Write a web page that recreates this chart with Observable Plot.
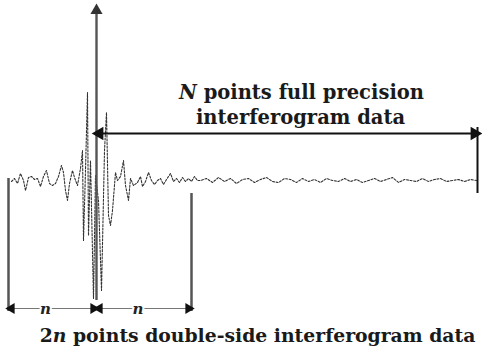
<!DOCTYPE html>
<html>
<head>
<meta charset="utf-8">
<script src="https://cdn.jsdelivr.net/npm/d3@7"></script>
<script src="https://cdn.jsdelivr.net/npm/@observablehq/plot@0.6"></script>
<style>
  html, body { margin: 0; padding: 0; background: #fff; }
  #chart svg { display: block; }
</style>
</head>
<body>
<div id="chart"></div>
<script>
// Optical path difference (sample offset from zero-path-difference) and signal amplitude
const opd = [-85,-82,-79,-76,-73,-71,-68,-65,-62,-59,-56,-53,-50,-47,-44,-41,-38,-35,-33,-31,-29,-27,-24,-22,-19,-16,-14,-13,-11,-9,-8,-6,-3,-1,2,5,8,10,12,14,16,19,21,24,27,29,32,34,37,41,44,46,49,52,55,58,61,64,67,70,74,77,80,83,86,89,92,95,98,101,
  104,110,116,122,128,134,140,146,152,158,164,170,176,182,188,194,200,206,212,218,224,230,236,242,248,254,260,266,272,278,284,290,296,302,308,314,320,326,332,338,344,350,356,362,368,374,380];
const amp = [-1,2,-3,7,0,-10,3,4,1,2,-6,4,10,-3,-5,-3,4,15,8,-10,-20,-3,10,3,-5,12,30,-60,10,88,-55,20,-118,5,-20,-110,30,68,-35,-45,-30,8,0,4,20,-5,-20,2,-5,-2,4,-6,-1,8,0,-4,0,2,-4,1,7,-1,2,-2,3,-1,2,-1,4,0,
  0,2,-2,3,-1,2,-3,1,2,-2,1,3,-1,-2,2,1,-2,2,-1,1,-2,2,0,-1,2,-1,1,-2,0,2,-1,1,3,-2,1,0,-1,2,-1,1,2,-1,0,1,-1,1,0];

// Annotation values
const nLeft = -88;      // start of double-sided segment (n points before ZPD)
const nRight = 95;      // end of double-sided segment (n points after ZPD)
const fullEnd = 381;    // end of N-point full precision segment
const labels = ["N points full precision", "interferogram data", "2n points double-side interferogram data", "n"];

const signal = opd.map((d, i) => ({opd: d, amp: amp[i]}));

const serif = "'DejaVu Serif', 'Liberation Serif', serif";

const plot = Plot.plot({
  width: 482,
  height: 349,
  marginTop: 0, marginRight: 0, marginBottom: 0, marginLeft: 0,
  x: {domain: [-96, 386], axis: null},
  y: {domain: [-169, 180], axis: null},
  style: {background: "#fff"},
  marks: [
    // interferogram trace
    Plot.line(signal, {x: "opd", y: "amp", stroke: "#333", strokeWidth: 1.1, strokeDasharray: "2,1.6"}),
    // vertical axis with arrowhead at ZPD
    Plot.ruleX([0], {y1: -120, y2: 166, stroke: "#555", strokeWidth: 2.4}),
    Plot.dot([0], {x: d => d, y: 170, symbol: "triangle", r: 4.5, fill: "#333", stroke: "none"}),
    // N-point double arrow
    Plot.ruleY([47], {x1: 3, x2: 378, stroke: "#111", strokeWidth: 1.8}),
    Plot.dot([3], {x: d => d, y: 47, symbol: "triangle", rotate: -90, r: 5, fill: "#111", stroke: "none"}),
    Plot.dot([378], {x: d => d, y: 47, symbol: "triangle", rotate: 90, r: 5, fill: "#111", stroke: "none"}),
    Plot.ruleX([fullEnd], {y1: 53, y2: -13, stroke: "#111", strokeWidth: 2}),
    // double-sided bracket
    Plot.ruleX([nLeft], {y1: 2, y2: -131, stroke: "#555", strokeWidth: 2.5}),
    Plot.ruleX([nRight], {y1: -13, y2: -131, stroke: "#555", strokeWidth: 2.5}),
    Plot.ruleY([-128], {x1: nLeft, x2: nRight, stroke: "#777", strokeWidth: 1}),
    Plot.dot([nLeft + 3, 3], {x: d => d, y: -128, symbol: "triangle", rotate: -90, r: 4, fill: "#111", stroke: "none"}),
    Plot.dot([-3, nRight - 3], {x: d => d, y: -128, symbol: "triangle", rotate: 90, r: 4, fill: "#111", stroke: "none"}),
    Plot.text([nLeft / 2 - 7, nRight / 2 - 6], {x: d => d, y: -128, text: () => labels[3], fontFamily: serif, fontStyle: "italic", fontWeight: "bold", fontSize: 15, fill: "#222", stroke: "#fff", strokeWidth: 4, dy: 1}),
    // texts
    Plot.text([labels[0]], {x: 205, y: 88, text: d => d, fontFamily: serif, fontWeight: "bold", fontSize: 19.5, fill: "#1a1a1a"}),
    Plot.text([labels[1]], {x: 204, y: 63, text: d => d, fontFamily: serif, fontWeight: "bold", fontSize: 19.5, fill: "#1a1a1a"}),
    Plot.text([labels[2]], {x: 161, y: -155, text: d => d, fontFamily: serif, fontWeight: "bold", fontSize: 18.8, fill: "#1a1a1a"})
  ]
});

// italicise the symbols N and n inside the captions
d3.select(plot).selectAll("text").each(function() {
  const t = this.textContent;
  const sel = d3.select(this);
  if (t === labels[0]) {
    sel.text(null);
    sel.append("tspan").attr("font-style", "italic").text("N");
    sel.append("tspan").text(" points full precision");
  } else if (t === labels[2]) {
    sel.text(null);
    sel.append("tspan").text("2");
    sel.append("tspan").attr("font-style", "italic").text("n");
    sel.append("tspan").text(" points double-side interferogram data");
  }
});

document.getElementById("chart").appendChild(plot);
</script>
</body>
</html>
